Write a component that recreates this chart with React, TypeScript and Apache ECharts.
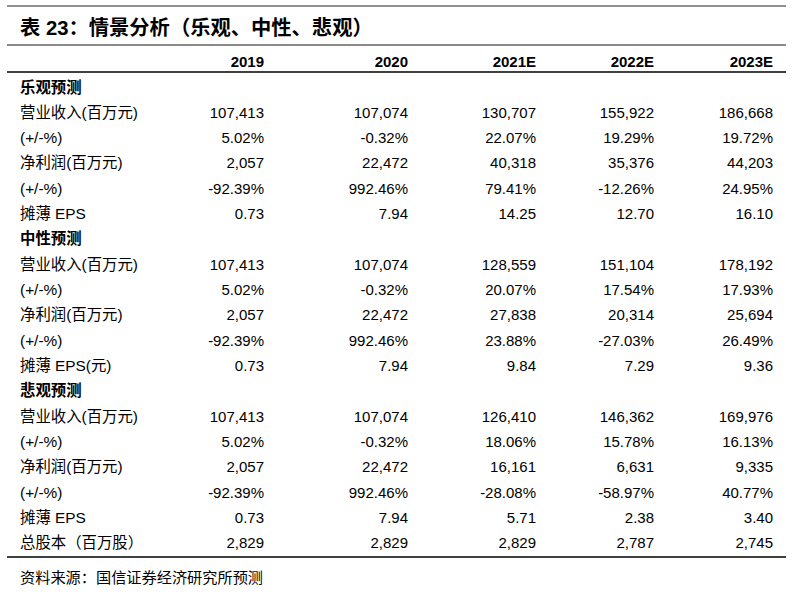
import React, { useEffect, useRef } from "react";
import * as echarts from "echarts";

const title = "表 23：情景分析（乐观、中性、悲观）";
const years = ["2019", "2020", "2021E", "2022E", "2023E"];
const sectionNames = ["乐观预测", "中性预测", "悲观预测"];

const optLabels = ["营业收入(百万元)", "(+/-%)", "净利润(百万元)", "(+/-%)", "摊薄 EPS"];
const optRevenue = [107413, 107074, 130707, 155922, 186668];
const optRevenueGrowth = [5.02, -0.32, 22.07, 19.29, 19.72];
const optProfit = [2057, 22472, 40318, 35376, 44203];
const optProfitGrowth = [-92.39, 992.46, 79.41, -12.26, 24.95];
const optEps = [0.73, 7.94, 14.25, 12.7, 16.1];

const neuLabels = ["营业收入(百万元)", "(+/-%)", "净利润(百万元)", "(+/-%)", "摊薄 EPS(元)"];
const neuRevenue = [107413, 107074, 128559, 151104, 178192];
const neuRevenueGrowth = [5.02, -0.32, 20.07, 17.54, 17.93];
const neuProfit = [2057, 22472, 27838, 20314, 25694];
const neuProfitGrowth = [-92.39, 992.46, 23.88, -27.03, 26.49];
const neuEps = [0.73, 7.94, 9.84, 7.29, 9.36];

const pesLabels = ["营业收入(百万元)", "(+/-%)", "净利润(百万元)", "(+/-%)", "摊薄 EPS"];
const pesRevenue = [107413, 107074, 126410, 146362, 169976];
const pesRevenueGrowth = [5.02, -0.32, 18.06, 15.78, 16.13];
const pesProfit = [2057, 22472, 16161, 6631, 9335];
const pesProfitGrowth = [-92.39, 992.46, -28.08, -58.97, 40.77];
const pesEps = [0.73, 7.94, 5.71, 2.38, 3.4];

const sharesLabel = "总股本（百万股）";
const shares = [2829, 2829, 2829, 2787, 2745];

const source = "资料来源：国信证券经济研究所预测";

const fmtInt = (v: number) => v.toLocaleString("en-US");
const fmtPct = (v: number) => v.toFixed(2) + "%";
const fmtDec = (v: number) => v.toFixed(2);

type Row = { label: string; values: string[]; bold?: boolean };

function buildRows(): Row[] {
  const sec = (name: string, labels: string[], rev: number[], rg: number[], pr: number[], pg: number[], eps: number[]): Row[] => [
    { label: name, values: [], bold: true },
    { label: labels[0], values: rev.map(fmtInt) },
    { label: labels[1], values: rg.map(fmtPct) },
    { label: labels[2], values: pr.map(fmtInt) },
    { label: labels[3], values: pg.map(fmtPct) },
    { label: labels[4], values: eps.map(fmtDec) },
  ];
  return [
    ...sec(sectionNames[0], optLabels, optRevenue, optRevenueGrowth, optProfit, optProfitGrowth, optEps),
    ...sec(sectionNames[1], neuLabels, neuRevenue, neuRevenueGrowth, neuProfit, neuProfitGrowth, neuEps),
    ...sec(sectionNames[2], pesLabels, pesRevenue, pesRevenueGrowth, pesProfit, pesProfitGrowth, pesEps),
    { label: sharesLabel, values: shares.map(fmtInt) },
  ];
}

const FONT = "'Liberation Sans', Arial, 'Noto Sans CJK SC', sans-serif";

export default function App() {
  const ref = useRef<HTMLDivElement>(null);
  useEffect(() => {
    document.body.style.margin = "0";
    if (!ref.current) return;
    const chart = echarts.init(ref.current, null, { renderer: "svg" });
    const rows = buildRows();
    const colRight = [264, 408, 536, 654, 773];
    const lineLeft = 7;
    const lineRight = 786;
    const firstRowY = 87;
    const rowH = 25.33;
    const elements: any[] = [];

    const hline = (y: number, color: string, w: number) => ({
      type: "line",
      shape: { x1: lineLeft, y1: y, x2: lineRight, y2: y },
      style: { stroke: color, lineWidth: w },
      silent: true,
    });

    elements.push(hline(6, "#222", 1.2));
    elements.push({
      type: "text",
      x: 20,
      y: 28,
      style: { text: title, fontFamily: FONT, fontSize: 20.3, fontWeight: "bold", fill: "#000", verticalAlign: "middle", textAlign: "left" },
    });
    elements.push(hline(45, "#8a8a8a", 2));
    years.forEach((yr, i) => {
      elements.push({
        type: "text",
        x: colRight[i],
        y: 61,
        style: { text: yr, fontFamily: FONT, fontSize: 15, fontWeight: "bold", fill: "#000", textAlign: "right", verticalAlign: "middle" },
      });
    });
    elements.push(hline(72, "#000", 1.5));

    rows.forEach((r, ri) => {
      const y = firstRowY + ri * rowH;
      elements.push({
        type: "text",
        x: 20,
        y,
        style: { text: r.label, fontFamily: FONT, fontSize: 15.4, fontWeight: r.bold ? "bold" : "normal", fill: "#000", textAlign: "left", verticalAlign: "middle" },
      });
      r.values.forEach((v, ci) => {
        elements.push({
          type: "text",
          x: colRight[ci],
          y,
          style: { text: v, fontFamily: FONT, fontSize: 15, fill: "#000", textAlign: "right", verticalAlign: "middle" },
        });
      });
    });

    elements.push(hline(557, "#000", 1.5));
    elements.push({
      type: "text",
      x: 20,
      y: 577,
      style: { text: source, fontFamily: FONT, fontSize: 15.2, fill: "#000", textAlign: "left", verticalAlign: "middle" },
    });

    chart.setOption({
      animation: false,
      backgroundColor: "#fff",
      graphic: { elements },
    });
    return () => chart.dispose();
  }, []);
  return <div ref={ref} style={{ width: 800, height: 600 }} />;
}
